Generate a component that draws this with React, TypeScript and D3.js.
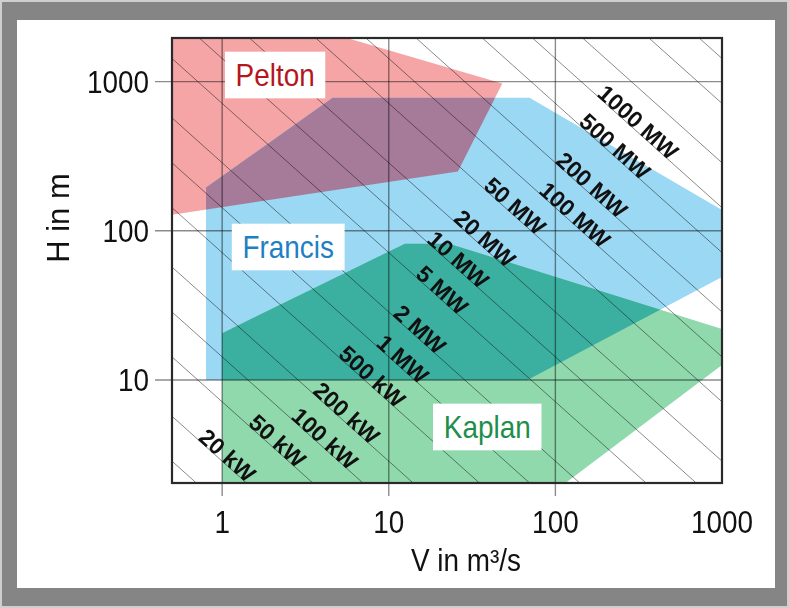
import React, { useEffect, useRef } from 'react';
import * as d3 from 'd3';

// Axis ticks / domains (flow Q in m³/s, head H in m)
const flowTicks = [1, 10, 100, 1000];
const headTicks = [10, 100, 1000];
const flowDomain: [number, number] = [0.5, 1000];
const headDomain: [number, number] = [2.04, 1960];

// Turbine application ranges (polygon vertices, Q and H)
const peltonQ = [0.5, 5.6, 48, 26, 0.5];
const peltonH = [1960, 1960, 970, 250, 128];
const francisQ = [0.8, 4.6, 70, 1000, 1000, 68, 0.8];
const francisH = [195, 780, 780, 138, 49, 10, 10];
const kaplanQ = [1, 1, 12.5, 23, 1000, 1000, 115];
const kaplanH = [2.04, 20.6, 82, 82, 22, 12.6, 2.04];

// Iso-power lines: P[kW] = powerConst * Q * H
const powerConst = 7;
const powerLinesKW = [5, 10, 20, 50, 100, 200, 500, 1e3, 2e3, 5e3, 1e4, 2e4, 5e4, 1e5, 2e5, 5e5, 1e6, 2e6, 5e6, 1e7];
const powerLabels = ['20 kW', '50 kW', '100 kW', '200 kW', '500 kW', '1 MW', '2 MW', '5 MW', '10 MW', '20 MW', '50 MW', '100 MW', '200 MW', '500 MW', '1000 MW'];
const powerLabelKW = [20, 50, 100, 200, 500, 1e3, 2e3, 5e3, 1e4, 2e4, 5e4, 1e5, 2e5, 5e5, 1e6];
const powerLabelQ = [1.0, 2.0, 3.85, 5.2, 7.4, 11.3, 14.3, 19.5, 24.3, 35.2, 53.3, 122, 154, 212, 292];

// Region labels
const regionNames = ['Pelton', 'Francis', 'Kaplan'];
const regionColors = ['#b5161d', '#1f7fc3', '#1e8e4c'];
const regionLabelQ = [2.08, 2.49, 39];
const regionLabelH = [1109, 78, 4.85];

const FONT = '"Liberation Sans", Arial, Helvetica, sans-serif';

export default function App() {
  const ref = useRef<SVGSVGElement>(null);

  useEffect(() => {
    const svg = d3.select(ref.current);
    svg.selectAll('*').remove();
    const left = 172, right = 722, top = 38, bottom = 483;
    const x = d3.scaleLog().domain(flowDomain).range([left, right]);
    const y = d3.scaleLog().domain(headDomain).range([bottom, top]);

    // outer frame
    svg.append('rect').attr('width', 789).attr('height', 608).attr('fill', '#cfcfcf');
    svg.append('rect').attr('x', 2).attr('y', 2).attr('width', 785).attr('height', 604).attr('fill', '#858585');
    svg.append('rect').attr('x', 17).attr('y', 20).attr('width', 758).attr('height', 568).attr('fill', '#ffffff');

    const poly = (qs: number[], hs: number[]) =>
      (d3.line()(qs.map((q, i) => [x(q), y(hs[i])] as [number, number])) as string) + 'Z';

    const defs = svg.append('defs');
    defs.append('clipPath').attr('id', 'plotClip').append('rect')
      .attr('x', left).attr('y', top).attr('width', right - left).attr('height', bottom - top);
    defs.append('clipPath').attr('id', 'peltonClip').append('path').attr('d', poly(peltonQ, peltonH));
    defs.append('clipPath').attr('id', 'francisClip').append('path').attr('d', poly(francisQ, francisH));

    const g = svg.append('g').attr('clip-path', 'url(#plotClip)');
    g.append('path').attr('d', poly(peltonQ, peltonH)).attr('fill', '#f6a5a6');
    g.append('path').attr('d', poly(francisQ, francisH)).attr('fill', '#9bd8f4');
    g.append('path').attr('d', poly(kaplanQ, kaplanH)).attr('fill', '#90d9ad');
    g.append('g').attr('clip-path', 'url(#peltonClip)')
      .append('path').attr('d', poly(francisQ, francisH)).attr('fill', '#a67b99');
    g.append('g').attr('clip-path', 'url(#francisClip)')
      .append('path').attr('d', poly(kaplanQ, kaplanH)).attr('fill', '#3cb0a0');

    // iso-power lines
    powerLinesKW.forEach((p) => {
      const q0 = flowDomain[0] * 0.5, q1 = flowDomain[1] * 2;
      g.append('line')
        .attr('x1', x(q0)).attr('y1', y(p / (powerConst * q0)))
        .attr('x2', x(q1)).attr('y2', y(p / (powerConst * q1)))
        .attr('stroke', '#8a8a8a').attr('stroke-width', 1)
        .style('mix-blend-mode', 'multiply');
    });

    // grid lines / ticks
    headTicks.forEach((h) => {
      svg.append('line').attr('x1', 155).attr('x2', right).attr('y1', y(h)).attr('y2', y(h))
        .attr('stroke', '#8c8c8c').attr('stroke-width', 1.4).style('mix-blend-mode', 'multiply');
    });
    flowTicks.filter((t) => t < 1000).forEach((t) => {
      svg.append('line').attr('x1', x(t)).attr('x2', x(t)).attr('y1', top).attr('y2', 496)
        .attr('stroke', '#8c8c8c').attr('stroke-width', 1.4).style('mix-blend-mode', 'multiply');
    });

    // plot border
    svg.append('rect').attr('x', left).attr('y', top).attr('width', right - left).attr('height', bottom - top)
      .attr('fill', 'none').attr('stroke', '#2a2a2a').attr('stroke-width', 2.2);

    // power labels
    powerLabels.forEach((lab, i) => {
      const p = powerLabelKW[i];
      const q = powerLabelQ[i];
      const px = x(q), py = y(p / (powerConst * q));
      const dx = x(q * 2) - px, dy = y(p / (powerConst * q * 2)) - py;
      const a = Math.atan2(dy, dx);
      const off = 8;
      const cx = px + off * Math.sin(a), cy = py - off * Math.cos(a);
      svg.append('text')
        .attr('transform', `translate(${cx},${cy}) rotate(${(a * 180) / Math.PI})`)
        .attr('text-anchor', 'middle').attr('dy', '0.36em')
        .attr('font-family', FONT).attr('font-weight', 'bold').attr('font-size', 23)
        .attr('fill', '#111').text(lab);
    });

    // region labels with white boxes
    regionNames.forEach((name, i) => {
      const gg = svg.append('g')
        .attr('transform', `translate(${x(regionLabelQ[i])},${y(regionLabelH[i])}) scale(0.9,1)`);
      const rect = gg.append('rect').attr('fill', '#fff');
      const t = gg.append('text').attr('text-anchor', 'middle').attr('dy', '0.36em')
        .attr('font-family', FONT).attr('font-size', 31).attr('fill', regionColors[i]).text(name);
      const bb = (t.node() as SVGTextElement).getBBox();
      rect.attr('x', bb.x - 12).attr('y', bb.y - 6).attr('width', bb.width + 24).attr('height', bb.height + 12);
    });

    // tick labels
    headTicks.forEach((h) => {
      svg.append('text').attr('transform', `translate(149,${y(h)}) scale(0.9,1)`)
        .attr('text-anchor', 'end').attr('dy', '0.36em')
        .attr('font-family', FONT).attr('font-size', 31).attr('fill', '#111').text(String(h));
    });
    flowTicks.forEach((t) => {
      svg.append('text').attr('transform', `translate(${x(t)},533) scale(0.9,1)`)
        .attr('text-anchor', 'middle')
        .attr('font-family', FONT).attr('font-size', 31).attr('fill', '#111').text(String(t));
    });

    // axis titles
    svg.append('text').attr('transform', `translate(466,571) scale(0.9,1)`)
      .attr('text-anchor', 'middle')
      .attr('font-family', FONT).attr('font-size', 31).attr('fill', '#111').text('V in m³/s');
    svg.append('text').attr('transform', `translate(58,218) rotate(-90)`)
      .attr('text-anchor', 'middle').attr('dy', '0.36em')
      .attr('font-family', FONT).attr('font-size', 31).attr('fill', '#111').text('H in m');
  }, []);

  return (
    <svg ref={ref} width={789} height={608}
      style={{ position: 'absolute', left: 0, top: 0, display: 'block' }} />
  );
}
